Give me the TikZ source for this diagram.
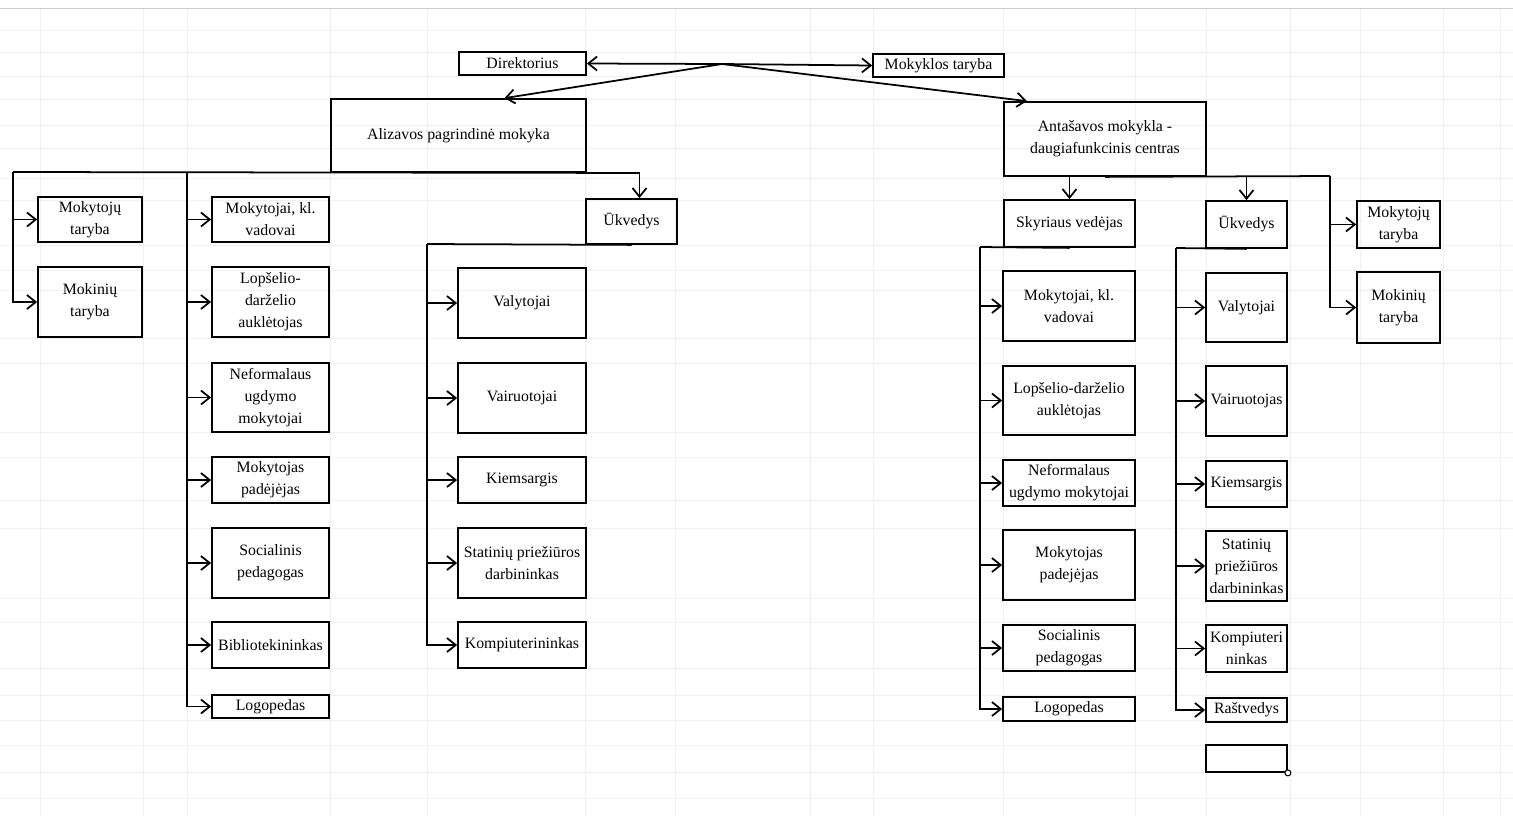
\documentclass[tikz,border=0pt]{standalone}
\usepackage{fontspec}
\setmainfont{Liberation Serif}
\usetikzlibrary{arrows.meta,calc}

\tikzset{
  box/.style={draw, line width=1pt, align=center, inner sep=0pt, font=\fontsize{9}{12.5}\selectfont},
  conn/.style={line width=1pt},
  arr/.style={conn, -{Straight Barb[length=5pt,width=8pt]}},
  gridline/.style={black!6, line width=0.5pt}
}

% box from its corners (x1,y1,x2,y2 in scan pixels)
\newcommand{\orgbox}[6]{%
  \node[box, minimum width={(#4-#2)*0.02cm}, minimum height={(#5-#3)*0.02cm}] (#1) at ({(#2+#4)/2},{(#3+#5)/2}) {#6};}

\begin{document}
\begin{tikzpicture}[x=0.02cm, y=-0.02cm]
	\useasboundingbox (0,0) rectangle (1513,816);
	
	% sheet grid
	\foreach \gx in {40,143,187,330,427,585,675,810,873,1003,1135,1206,1290,1360,1443,1500}
	\draw[gridline] (\gx,8) -- (\gx,816);
	\foreach \gy in {30,52,76,99,125,148,178,200,245,270,290,338,363,432,457,500,528,598,622,668,695,720,745,772,798}
	\draw[gridline] (0,\gy) -- (1513,\gy);
	\draw[black!20] (0,8) -- (1513,8);
	
	% top level
	\orgbox{dir}{459}{52}{586}{75}{Direktorius}
	\orgbox{taryba}{873}{54}{1004}{77}{Mokyklos taryba}
	\orgbox{aliz}{331}{99}{586}{172}{Alizavos pagrindinė mokyka}
	\orgbox{anta}{1004}{102}{1206}{176}{Antašavos mokykla -\\daugiafunkcinis centras}
	
	\coordinate (hub) at (722,64);
	\draw[arr] (hub) -- (dir.east);
	\draw[arr] (hub) -- (taryba.west);
	\draw[arr] (hub) -- ($(aliz.north)+(46,0)$);
	\draw[arr] (hub) -- ($(anta.north)+(-78,0)$);
	
	% Alizavos pagrindine mokyka
	\orgbox{mtA}{38}{197}{142}{242}{Mokytojų\\taryba}
	\orgbox{mkA}{38}{267}{142}{337}{Mokinių\\taryba}
	
	\orgbox{Amok}{212}{197}{329}{242}{Mokytojai, kl.\\vadovai}
	\orgbox{Alop}{212}{267}{329}{337}{Lopšelio-\\darželio\\auklėtojas}
	\orgbox{Anef}{212}{363}{329}{432}{Neformalaus\\ugdymo\\mokytojai}
	\orgbox{Apad}{212}{457}{329}{503}{Mokytojas\\padėjėjas}
	\orgbox{Asoc}{212}{528}{329}{598}{Socialinis\\pedagogas}
	\orgbox{Abib}{212}{622}{329}{668}{Bibliotekininkas}
	\orgbox{Alog}{212}{695}{329}{718}{Logopedas}
	
	\orgbox{ukA}{586}{199}{677}{244}{Ūkvedys}
	\orgbox{Aval}{458}{268}{586}{338}{Valytojai}
	\orgbox{Avai}{458}{363}{586}{433}{Vairuotojai}
	\orgbox{Akie}{458}{457}{586}{503}{Kiemsargis}
	\orgbox{Asta}{458}{528}{586}{598}{Statinių priežiūros\\darbininkas}
	\orgbox{Akom}{458}{622}{586}{668}{Kompiuterininkas}
	
	\coordinate (aBus) at (13,172);
	\coordinate (aTrunk) at (187,172);
	\coordinate (uTrunk) at (427,244);
	\draw[conn] (aBus) -- (aliz.south east);
	\draw[arr] (aliz.south east) -| ($(ukA.north)+(8,0)$);
	\foreach \b in {mtA,mkA}
	\draw[arr] (aBus) |- (\b.west);
	\foreach \b in {Amok,Alop,Anef,Apad,Asoc,Abib,Alog}
	\draw[arr] (aTrunk) |- (\b.west);
	\draw[conn] (uTrunk) -- (ukA.south);
	\foreach \b in {Aval,Avai,Akie,Asta,Akom}
	\draw[arr] (uTrunk) |- (\b.west);
	
	% Antasavos mokykla
	\orgbox{sky}{1004}{200}{1135}{247}{Skyriaus vedėjas}
	\orgbox{ukB}{1206}{201}{1287}{248}{Ūkvedys}
	\orgbox{mtB}{1357}{201}{1440}{248}{Mokytojų\\taryba}
	\orgbox{mkB}{1357}{272}{1440}{343}{Mokinių\\taryba}
	
	\orgbox{Bmok}{1003}{271}{1135}{341}{Mokytojai, kl.\\vadovai}
	\orgbox{Blop}{1003}{366}{1135}{435}{Lopšelio-darželio\\auklėtojas}
	\orgbox{Bnef}{1003}{460}{1135}{506}{Neformalaus\\ugdymo mokytojai}
	\orgbox{Bpad}{1003}{530}{1135}{600}{Mokytojas\\padejėjas}
	\orgbox{Bsoc}{1003}{625}{1135}{671}{Socialinis\\pedagogas}
	\orgbox{Blog}{1003}{697}{1135}{721}{Logopedas}
	
	\orgbox{Bval}{1206}{273}{1287}{342}{Valytojai}
	\orgbox{Bvai}{1206}{366}{1287}{436}{Vairuotojas}
	\orgbox{Bkie}{1206}{461}{1287}{507}{Kiemsargis}
	\orgbox{Bsta}{1206}{531}{1287}{601}{Statinių\\priežiūros\\darbininkas}
	\orgbox{Bkom}{1206}{625}{1287}{672}{Kompiuteri\\ninkas}
	\orgbox{Bras}{1206}{698}{1287}{722}{Raštvedys}
	
	% empty selected cell
	\orgbox{blank}{1206}{745}{1287}{772}{}
	\draw[line width=0.6pt, fill=white] (blank.south east) circle (3);
	
	\coordinate (bBus) at (1330,176);
	\coordinate (sTrunk) at (980,247);
	\coordinate (vTrunk) at (1176,248);
	\draw[arr] (sky.north |- anta.south) -- (sky.north);
	\draw[conn] (anta.south) -- (bBus);
	\draw[arr] (ukB.north |- anta.south) -- (ukB.north);
	\foreach \b in {mtB,mkB}
	\draw[arr] (bBus) |- (\b.west);
	\draw[conn] (sTrunk) -- (sky.south);
	\foreach \b in {Bmok,Blop,Bnef,Bpad,Bsoc,Blog}
	\draw[arr] (sTrunk) |- (\b.west);
	\draw[conn] (vTrunk) -- (ukB.south);
	\foreach \b in {Bval,Bvai,Bkie,Bsta,Bkom,Bras}
	\draw[arr] (vTrunk) |- (\b.west);
\end{tikzpicture}
\end{document}
